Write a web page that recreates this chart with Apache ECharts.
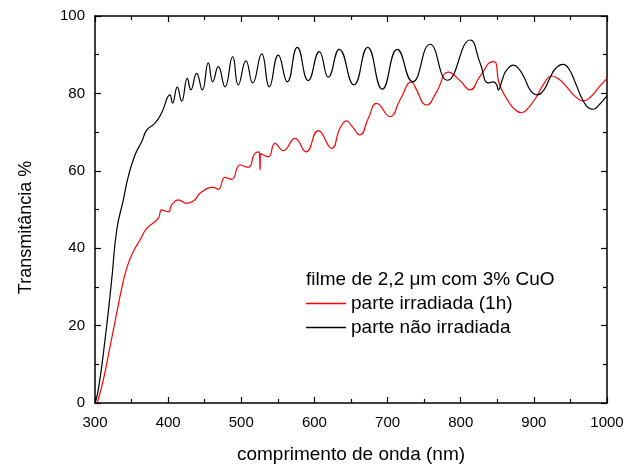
<!DOCTYPE html>
<html>
<head>
<meta charset="utf-8">
<script src="https://cdn.jsdelivr.net/npm/echarts@6/dist/echarts.min.js"></script>
<style>
  html, body { margin: 0; padding: 0; background: #fff; }
  #chart { width: 627px; height: 469px; }
</style>
</head>
<body>
<div id="chart"></div>
<script>
// wavelength (nm) / transmittance (%) pairs
const naoIrradiada = [
  [300, 0], [304.5, 3.4], [313.7, 16.3], [322.8, 31.8], [329.7, 44.7], [338.7, 52.5],
  [345.5, 58.5], [354.7, 64.1], [363.8, 67.5], [370.7, 70.5], [382, 72.3], [391.2, 75],
  [402.5, 79.6], [406, 77.5], [412.5, 81.6], [418.5, 78], [426.2, 83.9], [431, 80.9],
  [439, 85.2], [446.7, 80.9], [454.9, 87.9], [461, 83], [468.6, 86.9], [477.7, 81.7],
  [488.2, 89.5], [495.9, 82.2], [506.4, 88.4], [515.6, 82.7], [527.9, 90.2], [538.3, 81.7],
  [550.6, 89.9], [562.9, 83], [576.6, 91.9], [591.6, 83.3], [606.7, 90.8], [619, 84.2],
  [634, 91.4], [654, 82.2], [672.8, 91.9], [692.8, 81.1], [713.3, 91.4], [734.3, 83],
  [758, 92.7], [781.7, 83.4], [812.9, 93.8], [826.6, 87.8], [837.7, 82.7], [844.6, 83],
  [849.2, 82.2], [851.4, 80.9], [857, 83.6], [862, 85.8], [871.9, 87.3], [880, 86.2],
  [888, 83.6], [896, 80.6], [905, 79.6], [914, 81], [922, 84], [930, 86.5],
  [940.2, 87.5], [948, 86.3], [957, 82.6], [966, 78.6], [975, 76.2], [981, 75.9],
  [990, 77.2], [1000, 79.4]
]

const irradiada = [
  [303, 0], [311.3, 5.9], [320.5, 14.5], [328.7, 22.3], [336.5, 29.6], [343.3, 34.8],
  [351.5, 38.8], [361.5, 42.1], [370.7, 45.1], [386.5, 47.7], [391.2, 49.9], [400.2, 49.4],
  [404.9, 51.2], [413.9, 52.5], [425.4, 51.6], [436.7, 52.5], [443.5, 54.2], [461.7, 55.7],
  [468.6, 55.2], [477.7, 58.3], [486.9, 57.8], [498.2, 61.5], [509.6, 60.9], [518.7, 64.5],
  [524.6, 64.9], [525.6, 60.2], [526.5, 64.5], [536.9, 63.6], [546.1, 67.1], [557.4, 65.2],
  [573.4, 68.4], [588.5, 64.9], [605.3, 70.4], [623.6, 65.8], [635, 71], [644.1, 72.9],
  [650.9, 71.6], [662.3, 69.3], [673.7, 73.6], [685.1, 77.4], [703.3, 74], [717, 78.3],
  [733, 83], [737.5, 81.7], [753.4, 77], [767.1, 80.4], [783, 85.5], [799, 83.3],
  [812.7, 80.9], [826.4, 84.4], [844.6, 88.2], [848.3, 87.8], [851.4, 83.4], [857, 80.6],
  [864, 78.3], [873, 76], [883.3, 75], [893, 76.4], [903.9, 79.2], [914, 82.6],
  [924.4, 84.5], [934, 83.7], [944.9, 81.7], [956, 79.3], [967.6, 78.1], [978, 79.2],
  [989, 81.6], [1000, 83.9]
]

const legendTitle = 'filme de 2,2 \u03bcm com 3% CuO'
const nomeIrradiada = 'parte irradiada (1h)'
const nomeNaoIrradiada = 'parte não irradiada'

const font = 'Liberation Sans, Arial, sans-serif'

const chart = echarts.init(document.getElementById('chart'), null, { renderer: 'canvas' })

const xBase = {
  type: 'value',
  min: 300,
  max: 1000,
  interval: 100,
  splitLine: { show: false },
  axisLine: { onZero: false, lineStyle: { color: '#000', width: 1.5 } },
  axisTick: { inside: true, length: 6, lineStyle: { color: '#000', width: 1.2 } },
  minorTick: { show: true, splitNumber: 2, length: 4, lineStyle: { color: '#000', width: 1.2 } }
}
const yBase = {
  type: 'value',
  min: 0,
  max: 100,
  interval: 20,
  splitLine: { show: false },
  axisLine: { onZero: false, lineStyle: { color: '#000', width: 1.5 } },
  axisTick: { inside: true, length: 6, lineStyle: { color: '#000', width: 1.2 } },
  minorTick: { show: true, splitNumber: 2, length: 4, lineStyle: { color: '#000', width: 1.2 } }
}

chart.setOption({
  animation: false,
  backgroundColor: '#fff',
  grid: { left: 95, top: 16, right: 20, bottom: 66, containLabel: false },
  legend: {
    orient: 'vertical',
    left: 306,
    top: 294,
    padding: 0,
    icon: 'rect',
    itemWidth: 40,
    itemHeight: 1.5,
    itemGap: 5,
    data: [nomeIrradiada, nomeNaoIrradiada],
    textStyle: { fontFamily: font, fontSize: 19, color: '#000' }
  },
  graphic: [{
    type: 'text',
    left: 306,
    top: 270,
    style: { text: legendTitle, font: '19px ' + font, fill: '#000' }
  }],
  xAxis: [
    Object.assign({}, xBase, {
      position: 'bottom',
      name: 'comprimento de onda (nm)',
      nameLocation: 'middle',
      nameGap: 42,
      nameTextStyle: { fontFamily: font, fontSize: 19, color: '#000' },
      axisLabel: {
        margin: 12, fontFamily: font, fontSize: 15, color: '#000',
        formatter: v => String(v)
      }
    }),
    Object.assign({}, xBase, { position: 'top', axisLabel: { show: false } })
  ],
  yAxis: [
    Object.assign({}, yBase, {
      position: 'left',
      name: 'Transmitância %',
      nameLocation: 'middle',
      nameGap: 60,
      nameTextStyle: { fontFamily: font, fontSize: 18, color: '#000', padding: [0, 36, 0, 0] },
      axisLabel: { margin: 10, fontFamily: font, fontSize: 15, color: '#000' }
    }),
    Object.assign({}, yBase, { position: 'right', axisLabel: { show: false } })
  ],
  series: [
    {
      name: nomeIrradiada,
      type: 'line',
      data: irradiada,
      symbol: 'none',
      smooth: 0.5,
      lineStyle: { color: '#ff0000', width: 1.2 },
      itemStyle: { color: '#ff0000' }
    },
    {
      name: nomeNaoIrradiada,
      type: 'line',
      data: naoIrradiada,
      symbol: 'none',
      smooth: 0.5,
      lineStyle: { color: '#000', width: 1.2 },
      itemStyle: { color: '#000' }
    }
  ]
})
</script>
</body>
</html>
